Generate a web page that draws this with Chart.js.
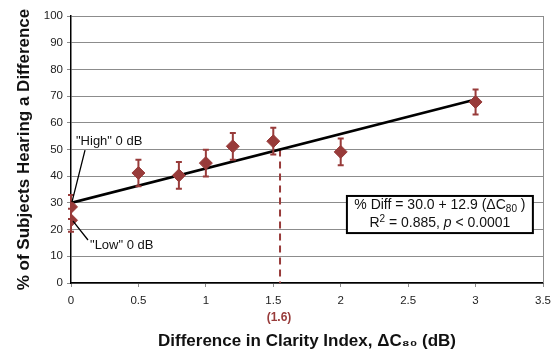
<!DOCTYPE html>
<html>
<head>
<meta charset="utf-8">
<script src="https://cdn.jsdelivr.net/npm/chart.js@4/dist/chart.umd.min.js"></script>
<style>
  body { margin: 0; background: #fff; }
  canvas { display: block; }
</style>
</head>
<body>
<canvas id="chart" width="553" height="349"></canvas>
<script>
// measured points: level difference vs. % of subjects who heard it
const deltaC80 = [0, 0, 0.5, 0.8, 1.0, 1.2, 1.5, 2.0, 3.0];
const pctHeard = [28.5, 23.5, 41.2, 40.3, 44.9, 51.2, 53.1, 49.1, 67.8];
const errBar = [4.5, 4.3, 5, 5, 5, 5, 5, 5, 4.7];

// regression: % Diff = 30.0 + 12.9 * dC80
const fitIntercept = 30.0;
const fitSlope = 12.9;
const fitRange = [0, 3];

// 50% threshold
const threshX = 1.55;
const threshY = 50;

const xTicks = [0, 0.5, 1, 1.5, 2, 2.5, 3, 3.5];
const yTicks = [0, 10, 20, 30, 40, 50, 60, 70, 80, 90, 100];

const red = '#983b3a';

let points = deltaC80.map((x, i) => ({ x: x, y: pctHeard[i] }));
let fitLine = fitRange.map(x => ({ x: x, y: fitIntercept + fitSlope * x }));
let threshLine = [{ x: threshX, y: threshY }, { x: threshX, y: 0 }];

const extras = {
  id: 'extras',
  afterDatasetsDraw(chart) {
    const ctx = chart.ctx;
    const xs = chart.scales.x, ys = chart.scales.y;
    const area = chart.chartArea;
    const px = v => xs.getPixelForValue(v);
    const py = v => ys.getPixelForValue(v);
    ctx.save();

    // plot border on the right
    ctx.strokeStyle = '#8c8c8c';
    ctx.lineWidth = 1;
    ctx.beginPath();
    ctx.moveTo(area.right + 0.5, area.top);
    ctx.lineTo(area.right + 0.5, area.bottom);
    ctx.stroke();

    // error bars
    ctx.strokeStyle = red;
    ctx.lineWidth = 2;
    deltaC80.forEach((x, i) => {
      let cx = px(x);
      let t = py(pctHeard[i] + errBar[i]);
      let b = py(pctHeard[i] - errBar[i]);
      ctx.beginPath();
      ctx.moveTo(cx, t); ctx.lineTo(cx, b);
      ctx.moveTo(cx - 3, t); ctx.lineTo(cx + 3, t);
      ctx.moveTo(cx - 3, b); ctx.lineTo(cx + 3, b);
      ctx.stroke();
    });

    // leader lines for the two 0 dB points
    ctx.strokeStyle = '#000';
    ctx.lineWidth = 1.3;
    ctx.beginPath();
    ctx.moveTo(px(0.104), py(49.8)); ctx.lineTo(px(0.007), py(30.3));
    ctx.moveTo(px(0.015), py(23.2)); ctx.lineTo(px(0.126), py(16.1));
    ctx.stroke();

    ctx.fillStyle = '#111';
    ctx.font = '13px "Liberation Sans", Arial, sans-serif';
    ctx.textAlign = 'left';
    ctx.textBaseline = 'middle';
    ctx.fillText('"High" 0 dB', px(0.037), py(53.2));
    ctx.fillText('"Low" 0 dB', px(0.141), py(14.0));

    // threshold label
    ctx.fillStyle = red;
    ctx.font = 'bold 12px "Liberation Sans", Arial, sans-serif';
    ctx.textAlign = 'center';
    ctx.fillText('(1.6)', px(threshX) - 1, 318);

    // equation box
    let bx0 = px(2.046), bx1 = px(3.425);
    let by0 = py(32.6), by1 = py(18.7);
    ctx.fillStyle = '#fff';
    ctx.fillRect(bx0, by0, bx1 - bx0, by1 - by0);
    ctx.strokeStyle = '#000';
    ctx.lineWidth = 2;
    ctx.strokeRect(bx0, by0, bx1 - bx0, by1 - by0);

    const reg = '14px "Liberation Sans", Arial, sans-serif';
    const sml = '10px "Liberation Sans", Arial, sans-serif';
    const ita = 'italic 14px "Liberation Sans", Arial, sans-serif';
    const drawRuns = (runs, cx, cy) => {
      let w = 0;
      runs.forEach(r => { ctx.font = r[1]; w += ctx.measureText(r[0]).width; });
      let x = cx - w / 2;
      ctx.textAlign = 'left';
      ctx.fillStyle = '#111';
      runs.forEach(r => {
        ctx.font = r[1];
        ctx.fillText(r[0], x, cy + (r[2] || 0));
        x += ctx.measureText(r[0]).width;
      });
    };
    let cx = (bx0 + bx1) / 2;
    drawRuns([['% Diff = 30.0 + 12.9 (\u0394C', reg], ['80', sml, 4], [' )', reg]], cx, 205);
    drawRuns([['R', reg], ['2', sml, -4], [' = 0.885, ', reg], ['p', ita], [' < 0.0001', reg]], cx, 223);

    ctx.restore();
  }
};

new Chart(document.getElementById('chart'), {
  type: 'scatter',
  data: {
    datasets: [
      {
        label: 'fit',
        type: 'line',
        data: fitLine,
        borderColor: '#000',
        borderWidth: 2.6,
        pointRadius: 0,
        fill: false,
        order: 2
      },
      {
        label: 'threshold',
        type: 'line',
        data: threshLine,
        borderColor: red,
        borderWidth: 2,
        borderDash: [7, 5],
        pointRadius: 0,
        fill: false,
        order: 3
      },
      {
        label: 'measured',
        data: points,
        pointStyle: 'rectRot',
        pointRadius: 6.5,
        pointBackgroundColor: red,
        pointBorderColor: red,
        pointBorderWidth: 1,
        order: 1
      }
    ]
  },
  options: {
    responsive: false,
    animation: false,
    layout: { padding: { left: 10, right: 10, top: 16, bottom: 0 } },
    plugins: {
      legend: { display: false },
      tooltip: { enabled: false }
    },
    scales: {
      x: {
        type: 'linear',
        min: 0,
        max: 3.5,
        afterBuildTicks: s => { s.ticks = xTicks.map(v => ({ value: v })); },
        afterFit: s => { s.height = 66; s.paddingLeft = 0; s.paddingRight = 0; },
        grid: { drawOnChartArea: false, drawTicks: true, tickLength: 4, color: '#8c8c8c' },
        border: { color: '#000', width: 1.5 },
        ticks: {
          padding: 7,
          color: '#222',
          font: { family: '"Liberation Sans", Arial, sans-serif', size: 11.5 },
          callback: v => String(v)
        },
        title: {
          display: true,
          text: 'Difference in Clarity Index, \u0394C\u2088\u2080 (dB)',
          color: '#111',
          padding: { top: 4, bottom: -3 },
          font: { family: '"Liberation Sans", Arial, sans-serif', size: 17, weight: 'bold' }
        }
      },
      y: {
        min: 0,
        max: 100,
        afterBuildTicks: s => { s.ticks = yTicks.map(v => ({ value: v })); },
        afterFit: s => { s.width = 61; },
        grid: { color: '#8c8c8c', lineWidth: 1, tickLength: 4 },
        border: { color: '#000', width: 1.5 },
        ticks: {
          padding: 4,
          color: '#222',
          font: { family: '"Liberation Sans", Arial, sans-serif', size: 11.5 }
        },
        title: {
          display: true,
          text: '% of Subjects Hearing a Difference',
          color: '#111',
          font: { family: '"Liberation Sans", Arial, sans-serif', size: 17, weight: 'bold' }
        }
      }
    }
  },
  plugins: [extras]
});
</script>
</body>
</html>
